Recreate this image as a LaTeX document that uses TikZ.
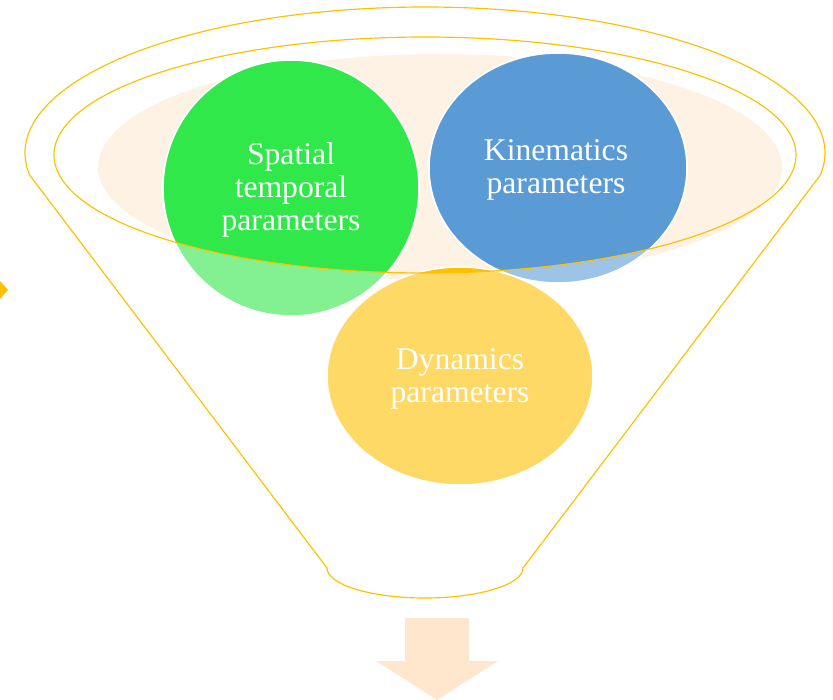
\documentclass[tikz,border=0pt]{standalone}
\usepackage{fontspec}
\setmainfont{Liberation Serif}
\usepackage{tikz}

\definecolor{funnelline}{HTML}{FFC000}
\definecolor{rimfill}{HTML}{FEF2E5}
\definecolor{spatialgreen}{HTML}{30E84A}
\definecolor{kinblue}{HTML}{5B9BD5}
\definecolor{dynyellow}{HTML}{FFC000}
\definecolor{arrowfill}{HTML}{FFE7CE}

\tikzset{
  funnel/.style={draw=funnelline, line width=1pt},
  ball/.style={draw=white, line width=1.3pt},
  balltext/.style={text=white, align=center, font=\fontsize{27}{28.2}\selectfont}
}

\begin{document}
\begin{tikzpicture}[x=0.03cm, y=-0.03cm]
                \useasboundingbox (0,0) rectangle (833,700);
                \fill[rimfill] (440,167) ellipse [x radius=342, y radius=113];
                \fill[dynyellow] (0,281) -- (8,290) -- (0,299) -- cycle;
                \fill[arrowfill] (405,618) -- (469,618) -- (469,661) -- (498,661) -- (437,700) -- (376,661) -- (405,661) -- cycle;
                % balls, pale where they hang out of the rim
                \filldraw[ball, fill=spatialgreen!60!white] (291,188) ellipse [x radius=128, y radius=128];
                \filldraw[ball, fill=kinblue!60!white] (558,168) ellipse [x radius=129, y radius=115];
                \filldraw[ball, fill=dynyellow!60!white] (460,376) ellipse [x radius=133, y radius=109];
                \begin{scope}
                    \clip (425,155) ellipse [x radius=371, y radius=118];
                    \filldraw[ball, fill=spatialgreen] (291,188) ellipse [x radius=128, y radius=128];
                    \filldraw[ball, fill=kinblue] (558,168) ellipse [x radius=129, y radius=115];
                    \filldraw[ball, fill=dynyellow] (460,376) ellipse [x radius=133, y radius=109];
                \end{scope}
                \draw[funnel] (29.6,175) arc[start angle=171.33, end angle=368.67, x radius=400, y radius=146]
                    -- (523,568) arc[start angle=0, end angle=180, x radius=98, y radius=30] -- cycle;
                \draw[funnel] (425,155) ellipse [x radius=371, y radius=118];
                \node[balltext] (spatial) at (291,190) {Spatial\\temporal\\parameters};
                \node[balltext] (kinematics) at (556,170) {Kinematics\\parameters};
                \node[balltext] (dynamics) at (460,379) {Dynamics\\parameters};
            \end{tikzpicture}
\end{document}
